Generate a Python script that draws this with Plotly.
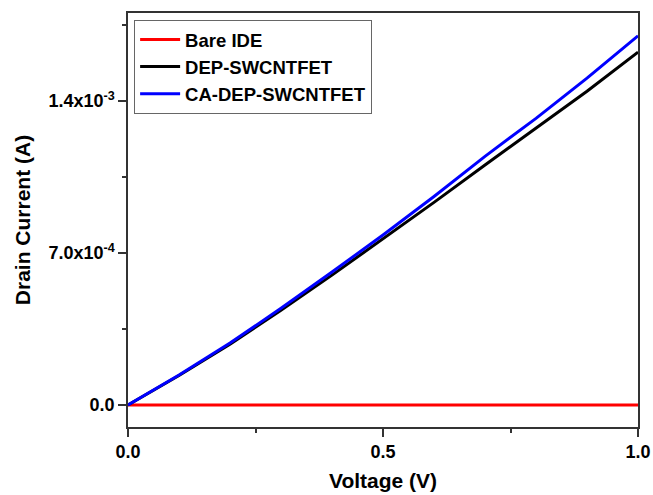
import plotly.graph_objects as go

voltage = [0.0, 0.1, 0.2, 0.3, 0.4, 0.5, 0.6, 0.7, 0.8, 0.9, 1.0]
bare_ide = [0.0, 0.0, 0.0, 0.0, 0.0, 0.0, 0.0, 0.0, 0.0, 0.0, 0.0]
dep_swcntfet = [0.0, 1.36e-4, 2.80e-4, 4.36e-4, 5.98e-4, 7.64e-4, 9.33e-4, 1.105e-3, 1.275e-3, 1.445e-3, 1.625e-3]
ca_dep_swcntfet = [0.0, 1.38e-4, 2.85e-4, 4.45e-4, 6.12e-4, 7.83e-4, 9.60e-4, 1.145e-3, 1.32e-3, 1.505e-3, 1.70e-3]

x_ticks = [0.0, 0.5, 1.0]
x_tick_labels = ["0.0", "0.5", "1.0"]
x_minor_ticks = [0.25, 0.75]
y_ticks = [0.0, 7.0e-4, 1.4e-3]
y_tick_labels = ["0.0", "7.0x10<sup>-4</sup>", "1.4x10<sup>-3</sup>"]
y_minor_ticks = [3.5e-4, 1.05e-3, 1.75e-3]

font_family = "Liberation Sans, Arial, sans-serif"

fig = go.Figure()
fig.add_trace(go.Scatter(x=voltage, y=bare_ide, mode="lines", name="Bare IDE",
                         line=dict(color="#ff0000", width=3)))
fig.add_trace(go.Scatter(x=voltage, y=dep_swcntfet, mode="lines", name="DEP-SWCNTFET",
                         line=dict(color="#000000", width=3)))
fig.add_trace(go.Scatter(x=voltage, y=ca_dep_swcntfet, mode="lines", name="CA-DEP-SWCNTFET",
                         line=dict(color="#0000ff", width=3)))

axis_common = dict(
    showline=True, linecolor="#333333", linewidth=1.5, mirror=True,
    ticks="outside", ticklen=8, tickwidth=1.5, tickcolor="#333333",
    showgrid=False, zeroline=False, automargin=False,
    tickfont=dict(family=font_family, size=18, color="black", weight="bold"),
)

fig.update_layout(
    width=653, height=495,
    margin=dict(l=128, r=15, t=13, b=68),
    paper_bgcolor="white", plot_bgcolor="white",
    font=dict(family=font_family, color="black"),
    showlegend=True,
    legend=dict(
        x=0.012, y=0.983, xanchor="left", yanchor="top",
        bordercolor="#666666", borderwidth=1, bgcolor="white",
        font=dict(family=font_family, size=18.5, color="black", weight="bold"),
        tracegroupgap=0, itemwidth=40,
    ),
    xaxis=dict(
        range=[0, 1.0],
        tickvals=x_ticks, ticktext=x_tick_labels,
        minor=dict(tickvals=x_minor_ticks, ticks="outside", ticklen=4, tickwidth=1.5,
                   tickcolor="#333333", showgrid=False),
        title=dict(text="Voltage (V)", standoff=12,
                   font=dict(family=font_family, size=21, color="black", weight="bold")),
        **axis_common,
    ),
    yaxis=dict(
        range=[-1.013e-4, 1.805e-3],
        tickvals=y_ticks, ticktext=y_tick_labels,
        minor=dict(tickvals=y_minor_ticks, ticks="outside", ticklen=4, tickwidth=1.5,
                   tickcolor="#333333", showgrid=False),
        title=dict(text="Drain Current (A)", standoff=12,
                   font=dict(family=font_family, size=21, color="black", weight="bold")),
        **axis_common,
    ),
)

fig.write_html("out.html", config={"displayModeBar": False},
               post_script="document.body.style.margin='0';")
